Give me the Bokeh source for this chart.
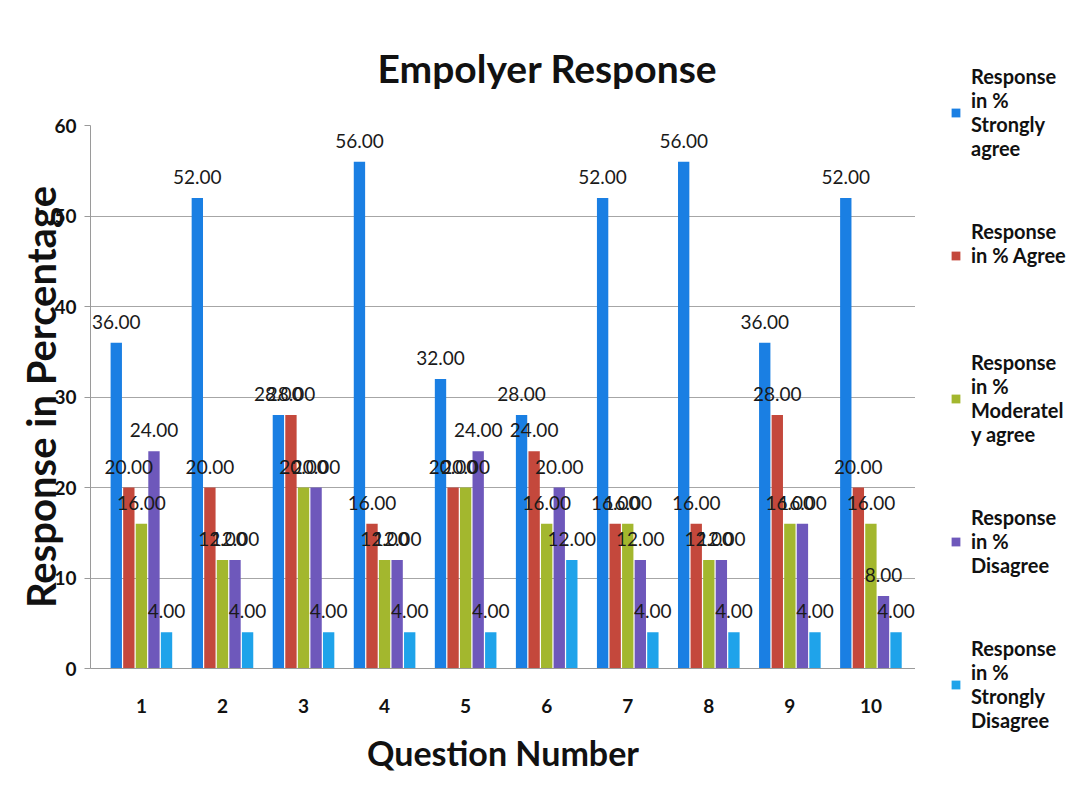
from bokeh.plotting import figure
from bokeh.layouts import row, column
from bokeh.models import (ColumnDataSource, Range1d, FixedTicker, LabelSet,
                          Legend, LegendItem)
from bokeh.core.properties import value
from bokeh.embed import file_html
from bokeh.resources import INLINE

questions = [1, 2, 3, 4, 5, 6, 7, 8, 9, 10]
strongly_agree = [36, 52, 28, 56, 32, 28, 52, 56, 36, 52]
agree = [20, 20, 28, 16, 20, 24, 16, 16, 28, 20]
moderately_agree = [16, 12, 20, 12, 20, 16, 16, 12, 16, 16]
disagree = [24, 12, 20, 12, 24, 20, 12, 12, 16, 8]
strongly_disagree = [4, 4, 4, 4, 4, 12, 4, 4, 4, 4]

series_names = [
    "Response\nin %\nStrongly\nagree",
    "Response\nin % Agree\n\n",
    "Response\nin %\nModeratel\ny agree",
    "Response\nin %\nDisagree\n",
    "Response\nin %\nStrongly\nDisagree",
]
series_values = [strongly_agree, agree, moderately_agree, disagree, strongly_disagree]
colors = ["#1a7fe3", "#c4483c", "#a3b72e", "#6e58bb", "#1fa3ea"]
offsets = [-0.31, -0.155, 0.0, 0.155, 0.31]

FONT = "Lato"

p = figure(width=915, height=798, output_backend="svg", toolbar_location=None,
           x_range=Range1d(0.372, 10.55), y_range=Range1d(0, 60),
           min_border_left=90, min_border_right=0, min_border_top=125,
           min_border_bottom=130, background_fill_color="white",
           border_fill_color="white", title="Empolyer Response")
p.outline_line_color = None

p.title.align = "left"
p.title.text_font = FONT
p.title.text_font_style = "bold"
p.title.text_font_size = "39px"
p.title.text_color = "#111111"
p.title.offset = 287
p.title.standoff = 70

# legend-only companion figure: shares the series sources, its view range shows none of them
p2 = figure(width=160, height=798, output_backend="svg", toolbar_location=None,
            x_axis_location=None, y_axis_location=None, min_border=0,
            x_range=Range1d(100, 101), y_range=Range1d(100, 101),
            background_fill_color="white", border_fill_color="white")
p2.outline_line_color = None
p2.xgrid.grid_line_color = None
p2.ygrid.grid_line_color = None

items = []
for name, vals, col, off in zip(series_names, series_values, colors, offsets):
    src = ColumnDataSource(dict(x=[q + off for q in questions], top=vals,
                                lab=["%.2f" % v for v in vals]))
    p.vbar(x="x", top="top", bottom=0, width=0.14, source=src,
           fill_color=col, line_color=None)
    ls = LabelSet(x="x", y="top", text="lab", source=src, text_align="center",
                  text_baseline="bottom", y_offset=14, text_font=value(FONT),
                  text_font_size="19px", text_color="#1a1a1a")
    p.add_layout(ls)
    r2 = p2.vbar(x="x", top="top", bottom=0, width=0.14, source=src,
                 fill_color=col, line_color=None)
    items.append(LegendItem(label=name, renderers=[r2]))

p.xaxis.ticker = FixedTicker(ticks=questions)
p.yaxis.ticker = FixedTicker(ticks=[0, 10, 20, 30, 40, 50, 60])
p.xaxis.major_tick_line_color = None
p.xaxis.minor_tick_line_color = None
p.yaxis.minor_tick_line_color = None
p.xaxis.axis_line_color = "#9a9a9a"
p.yaxis.axis_line_color = "#9a9a9a"
p.yaxis.major_tick_line_color = "#9a9a9a"
p.yaxis.major_tick_out = 6
p.yaxis.major_tick_in = 0
p.xaxis.major_label_standoff = 24
p.yaxis.major_label_standoff = 8
for ax in (p.xaxis, p.yaxis):
    ax.major_label_text_font = FONT
    ax.major_label_text_font_style = "bold"
    ax.major_label_text_font_size = "19px"
    ax.major_label_text_color = "#111111"
    ax.axis_label_text_font = FONT
    ax.axis_label_text_font_style = "bold"
    ax.axis_label_text_color = "#111111"

p.xaxis.axis_label = "Question Number"
p.xaxis.axis_label_text_font_size = "34px"
p.xaxis.axis_label_standoff = 16
p.yaxis.axis_label = "Response in Percentage"
p.yaxis.axis_label_text_font_size = "40px"
p.yaxis.axis_label_standoff = -14

p.xgrid.grid_line_color = None
p.ygrid.grid_line_color = "#a6a6a6"
p.ygrid.grid_line_width = 1

legend = Legend(items=items, location=(35, 54), label_text_font=FONT,
                label_text_font_style="bold", label_text_font_size="20px",
                label_text_color="#111111", label_text_line_height=1.5,
                glyph_width=11, glyph_height=11, label_height=120, spacing=23,
                border_line_color=None, background_fill_alpha=0, padding=0,
                margin=0, label_standoff=10)
p2.add_layout(legend)

open("out.html", "w").write(file_html(row(p, column(p2)), INLINE))
